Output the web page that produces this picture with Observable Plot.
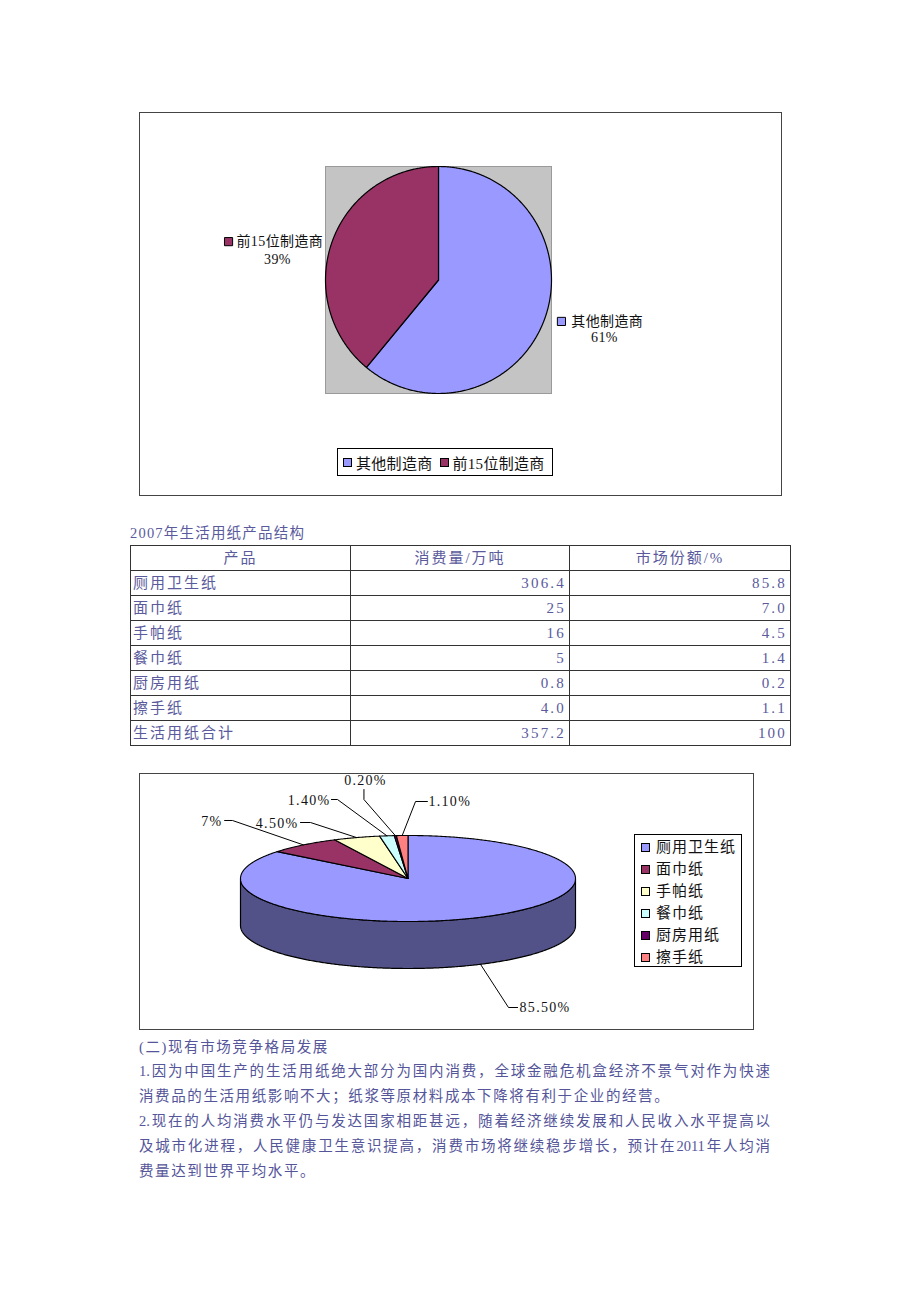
<!DOCTYPE html>
<html><head><meta charset="utf-8">
<script src="https://cdn.jsdelivr.net/npm/d3@7"></script>
<script src="https://cdn.jsdelivr.net/npm/@observablehq/plot@0.6"></script>
<style>
body{margin:0;background:#fff;}
#page{position:relative;width:920px;height:1302px;font-family:"Liberation Serif","Noto Sans CJK SC",serif;color:#111;}
.box{position:absolute;border:1px solid #444;box-sizing:border-box;background:#fff;}
.box svg{position:absolute;left:0;top:0;overflow:visible;}
.pie3d text{letter-spacing:1.3px;}
.pie2d text{letter-spacing:0.4px;}
.legend{position:absolute;border:1px solid #000;box-sizing:border-box;background:#fff;font-size:15px;color:#111;white-space:nowrap;}
.sw{display:inline-block;flex:none;width:7px;height:7px;border:1px solid #000;vertical-align:middle;}
.leg1{display:flex;align-items:center;justify-content:flex-start;padding-left:5px;}
.leg1 span.t{margin:0 7px 0 4px;letter-spacing:0.3px;white-space:nowrap;flex:none;}
.leg2 .row{height:22px;line-height:22px;display:flex;align-items:center;padding-left:6px;}
.leg2 .row span.t{margin-left:6px;letter-spacing:1px;}
#cap{position:absolute;left:130px;top:523px;font-size:14.5px;letter-spacing:1.2px;color:#5a5a9c;line-height:20px;white-space:nowrap;}
#tbl{position:absolute;left:130px;top:545px;border-collapse:collapse;table-layout:fixed;width:660px;color:#5a5a9c;font-size:15px;}
#tbl td{border:1px solid #333;height:24px;padding:0;line-height:24px;white-space:nowrap;letter-spacing:2px;}
#tbl td.l{padding-left:2px;text-align:left;}
#tbl td.n{text-align:right;padding-right:3px;letter-spacing:2.2px;}
#tbl td.h{text-align:center;}
.body{position:absolute;left:139px;width:631px;font-size:14.5px;letter-spacing:1.6px;color:#55559a;line-height:20px;white-space:nowrap;}
.body.j{text-align:justify;text-align-last:justify;letter-spacing:0;}
</style></head><body><div id="page"></div>
<script>
// ---- data ----
const makerNames = ["其他制造商", "前15位制造商"];
const makerShares = [61, 39];
const makerLabels = ["61%", "39%"];
const makerColors = ["#9999ff", "#993366"];

const tableTitle = "2007年生活用纸产品结构";
const tableHeaders = ["产品", "消费量/万吨", "市场份额/%"];
const tableProducts = ["厕用卫生纸", "面巾纸", "手帕纸", "餐巾纸", "厨房用纸", "擦手纸", "生活用纸合计"];
const tableConsumption = ["306.4", "25", "16", "5", "0.8", "4.0", "357.2"];
const tableShares = ["85.8", "7.0", "4.5", "1.4", "0.2", "1.1", "100"];

const productNames = ["厕用卫生纸", "面巾纸", "手帕纸", "餐巾纸", "厨房用纸", "擦手纸"];
const productShares = [85.5, 7, 4.5, 1.4, 0.2, 1.1];
const productLabels = ["85.50%", "7%", "4.50%", "1.40%", "0.20%", "1.10%"];
const productColors = ["#9999ff", "#993366", "#ffffcc", "#ccffff", "#660066", "#ff8080"];

const bodyLines = [
  "(二)现有市场竞争格局发展",
  "1.因为中国生产的生活用纸绝大部分为国内消费，全球金融危机盒经济不景气对作为快速",
  "消费品的生活用纸影响不大；纸浆等原材料成本下降将有利于企业的经营。",
  "2.现在的人均消费水平仍与发达国家相距甚远，随着经济继续发展和人民收入水平提高以",
  "及城市化进程，人民健康卫生意识提高，消费市场将继续稳步增长，预计在2011年人均消",
  "费量达到世界平均水平。"
];
const bodyJustify = [false, true, false, true, true, false];

// ---- layout (positions in unit pie coordinates) ----
const makerLabelLayout = [
  {sx: 1.088, sy: 0.365, tx: 1.175, ty: 0.365, px: 1.469, py: 0.505},
  {sx: -1.858, sy: -0.338, tx: -1.788, ty: -0.338, px: -1.425, py: -0.180}
];
const productLabelLayout = [
  {tx: 0.666, ty: 3.0, anchor: "start", lx: 0.654, ly: 3.0, ex: 0.600, ey: 3.0},
  {tx: -1.107, ty: -1.326, anchor: "end", lx: -1.095, ly: -1.349, ex: -1.048, ey: -1.349},
  {tx: -0.654, ty: -1.279, anchor: "end", lx: -0.642, ly: -1.302, ex: -0.582, ey: -1.302},
  {tx: -0.463, ty: -1.814, anchor: "end", lx: -0.457, ly: -1.837, ex: -0.421, ey: -1.837},
  {tx: -0.254, ty: -2.279, anchor: "middle", lx: -0.263, ly: -2.07, ex: -0.263, ey: -1.837},
  {tx: 0.122, ty: -1.791, anchor: "start", lx: 0.116, ly: -1.791, ex: 0.045, ey: -1.791}
];
const DEPTH = 47 / 43;

// ---- helpers ----
function arcPts(a0, a1) {
  const n = Math.max(2, Math.ceil((a1 - a0) / (Math.PI / 360)));
  return d3.range(n + 1).map(i => {
    const a = a0 + (a1 - a0) * i / n;
    return {x: Math.sin(a), y: -Math.cos(a)};
  });
}
function slicePoly(a0, a1) {
  return [{x: 0, y: 0}, ...arcPts(a0, a1), {x: 0, y: 0}];
}
function sidePoly(a0, a1, depth) {
  const lo = Math.max(a0, Math.PI / 2), hi = Math.min(a1, 3 * Math.PI / 2);
  if (hi <= lo) return null;
  const top = arcPts(lo, hi);
  const bottom = arcPts(lo, hi).reverse().map(p => ({x: p.x, y: p.y + depth}));
  return [...top, ...bottom, top[0]];
}

const page = document.getElementById("page");
const FONT = "Liberation Serif, Noto Sans CJK SC, serif";

// ---- chart 1 ----
{
  const box = document.createElement("div");
  box.className = "box";
  Object.assign(box.style, {left: "139px", top: "112px", width: "643px", height: "384px"});
  page.appendChild(box);
  const arcs = d3.pie().sort(null)(makerShares);
  const labelData = makerNames.map((n, i) => ({name: n, pct: makerLabels[i], color: makerColors[i], ...makerLabelLayout[i]}));
  const plot = Plot.plot({
    width: 641, height: 382,
    className: "pie2d",
    marginLeft: 185, marginRight: 230, marginTop: 53, marginBottom: 102,
    x: {domain: [-1, 1], axis: null},
    y: {domain: [-1, 1], reverse: true, axis: null},
    style: {fontFamily: FONT, background: "transparent", overflow: "visible"},
    marks: [
      Plot.frame({fill: "#c4c4c4", stroke: "#9a9a9a"}),
      ...arcs.map((a, i) => Plot.line(slicePoly(a.startAngle, a.endAngle), {x: "x", y: "y", fill: makerColors[i], stroke: "#000", strokeWidth: 1.2})),
      Plot.dot(labelData, {x: "sx", y: "sy", symbol: "square", r: 4.6, fill: "color", stroke: "#000", strokeWidth: 1}),
      Plot.text(labelData, {x: "tx", y: "ty", text: "name", textAnchor: "start", fontSize: 14, fill: "#111"}),
      Plot.text(labelData, {x: "px", y: "py", text: "pct", fontSize: 14, fill: "#111"})
    ]
  });
  box.appendChild(plot);
  const leg = document.createElement("div");
  leg.className = "legend leg1";
  Object.assign(leg.style, {left: "337px", top: "448px", width: "216px", height: "28px"});
  leg.innerHTML = makerNames.map((n, i) => `<span class="sw" style="background:${makerColors[i]}"></span><span class="t">${n}</span>`).join("");
  page.appendChild(leg);
}

// ---- table ----
{
  const cap = document.createElement("div");
  cap.id = "cap"; cap.textContent = tableTitle; page.appendChild(cap);
  const t = document.createElement("table");
  t.id = "tbl";
  let html = `<colgroup><col style="width:220px"><col style="width:219px"><col style="width:221px"></colgroup>`;
  html += `<tr>${tableHeaders.map(h => `<td class="h">${h}</td>`).join("")}</tr>`;
  tableProducts.forEach((p, i) => {
    html += `<tr><td class="l">${p}</td><td class="n">${tableConsumption[i]}</td><td class="n">${tableShares[i]}</td></tr>`;
  });
  t.innerHTML = html;
  page.appendChild(t);
}

// ---- chart 2 (3D pie) ----
{
  const box = document.createElement("div");
  box.className = "box";
  Object.assign(box.style, {left: "139px", top: "773px", width: "615px", height: "257px"});
  page.appendChild(box);
  const arcs = d3.pie().sort(null)(productShares);
  const sides = [];
  arcs.forEach((a, i) => {
    const s = sidePoly(a.startAngle, a.endAngle, DEPTH);
    if (s) sides.push(Plot.line(s, {x: "x", y: "y", fill: d3.color(productColors[i]).darker(1.75).formatHex(), stroke: "#000", strokeWidth: 1.2}));
  });
  const leaders = [];
  const labelData = arcs.map((a, i) => {
    const m = (a.startAngle + a.endAngle) / 2;
    const ax = Math.sin(m), ay0 = -Math.cos(m);
    const ay = ay0 > 0 ? ay0 + DEPTH : ay0;
    const L = productLabelLayout[i];
    leaders.push({i, x: L.lx, y: L.ly}, {i, x: L.ex, y: L.ey}, {i, x: ax, y: ay});
    return {text: productLabels[i], ...L};
  });
  const plot = Plot.plot({
    width: 613, height: 255,
    className: "pie3d",
    marginLeft: 100, marginRight: 178, marginTop: 61, marginBottom: 108,
    x: {domain: [-1, 1], axis: null},
    y: {domain: [-1, 1], reverse: true, axis: null},
    style: {fontFamily: FONT, background: "transparent", overflow: "visible"},
    marks: [
      ...sides,
      ...arcs.map((a, i) => Plot.line(slicePoly(a.startAngle, a.endAngle), {x: "x", y: "y", fill: productColors[i], stroke: "#000", strokeWidth: 1.1})),
      Plot.line(leaders, {x: "x", y: "y", z: "i", stroke: "#000", strokeWidth: 1}),
      ...["start", "end", "middle"].map(an => Plot.text(labelData.filter(d => d.anchor === an), {x: "tx", y: "ty", text: "text", textAnchor: an, fontSize: 14, fill: "#111"}))
    ]
  });
  box.appendChild(plot);
  const leg = document.createElement("div");
  leg.className = "legend leg2";
  Object.assign(leg.style, {left: "634px", top: "834px", width: "108px", height: "133px", paddingTop: "1px"});
  leg.innerHTML = productNames.map((n, i) => `<div class="row"><span class="sw" style="background:${productColors[i]}"></span><span class="t">${n}</span></div>`).join("");
  page.appendChild(leg);
}

// ---- body text ----
{
  const centers = [1047, 1071, 1096, 1121, 1146, 1171];
  bodyLines.forEach((line, i) => {
    const d = document.createElement("div");
    d.className = "body" + (bodyJustify[i] ? " j" : "");
    d.style.top = (centers[i] - 10) + "px";
    d.textContent = line;
    page.appendChild(d);
  });
}
</script>
</body></html>
